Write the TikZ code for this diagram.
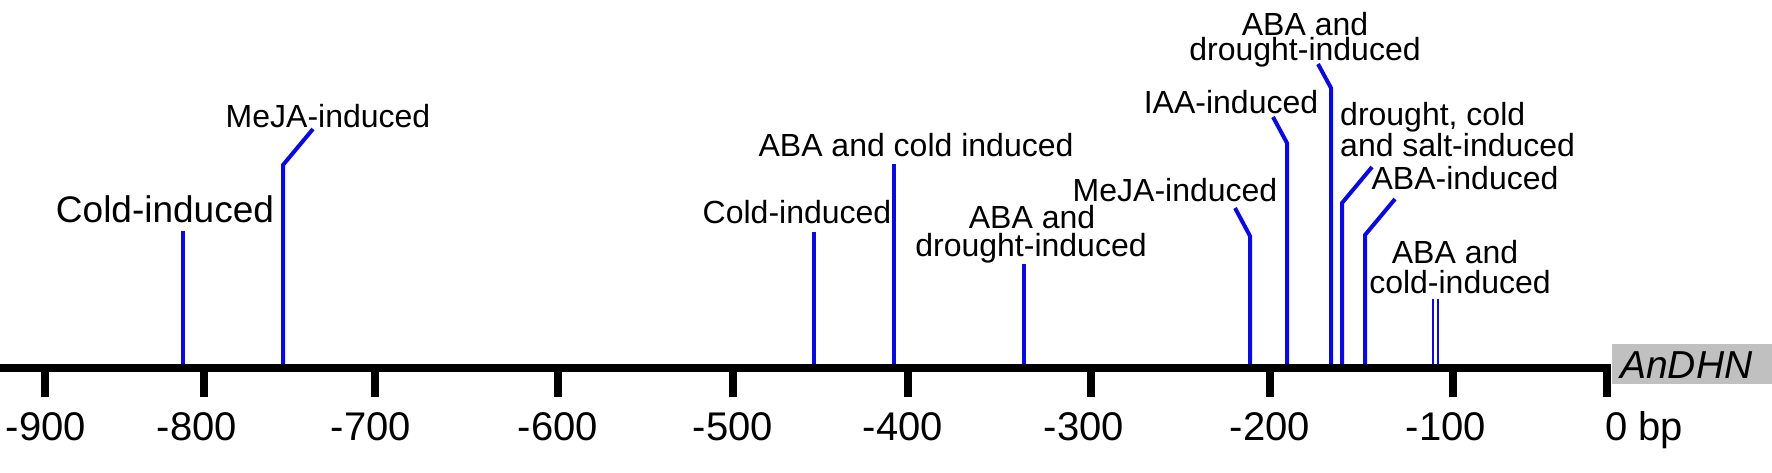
\documentclass[tikz,border=0pt]{standalone}
\usepackage{fontspec}
\setmainfont{Liberation Sans}
\definecolor{siteblue}{RGB}{10,10,220}
\definecolor{boxgray}{RGB}{192,192,192}
\begin{document}
\begin{tikzpicture}[x=1pt,y=-1pt,
  site/.style={draw=siteblue, line width=4pt},
  thinsite/.style={draw=siteblue, line width=2.6pt},
  axisline/.style={draw=black, line width=8pt},
  tickmark/.style={draw=black, line width=8pt},
  lbl/.style={inner sep=0pt, anchor=base, font=\fontsize{32}{32}\selectfont},
  lblw/.style={inner sep=0pt, anchor=base west, font=\fontsize{32}{32}\selectfont},
  biglbl/.style={inner sep=0pt, anchor=base, font=\fontsize{37}{37}\selectfont},
  ticklbl/.style={inner sep=0pt, anchor=base, font=\fontsize{40}{40}\selectfont}]
\useasboundingbox (0,0) rectangle (1772,472);

% gene label box
\node[fill=boxgray, minimum width=160pt, minimum height=40pt, inner sep=0pt, anchor=north west] (box) at (1612,344) {};
\node[inner sep=0pt, anchor=base west, font=\fontsize{39}{39}\selectfont\itshape] (gene) at (1620,378) {AnDHN};

% sites: bottoms on the axis
\coordinate (b1) at (183,368);  \coordinate (t1) at (183,231);
\coordinate (b2) at (283,368);  \coordinate (k2) at (283,165); \coordinate (t2) at (313,129);
\coordinate (b3) at (814,368);  \coordinate (t3) at (814,232);
\coordinate (b4) at (894,368);  \coordinate (t4) at (894,164);
\coordinate (b5) at (1024,368); \coordinate (t5) at (1024,264);
\coordinate (b6) at (1250,368); \coordinate (k6) at (1250,236); \coordinate (t6) at (1235,208);
\coordinate (b7) at (1287,368); \coordinate (k7) at (1287,143); \coordinate (t7) at (1273,117);
\coordinate (b8) at (1331,368); \coordinate (k8) at (1331,88);  \coordinate (t8) at (1318,64);
\coordinate (b9) at (1342,368); \coordinate (k9) at (1342,203); \coordinate (t9) at (1372,167);
\coordinate (b10) at (1365,368); \coordinate (k10) at (1365,235); \coordinate (t10) at (1395,199);
\coordinate (b11) at (1433,368); \coordinate (t11) at (1433,299);
\coordinate (b12) at (1438,368); \coordinate (t12) at (1438,299);

\draw[site] (b1) -- (t1);
\draw[site] (b2) -- (k2) -- (t2);
\draw[site] (b3) -- (t3);
\draw[site] (b4) -- (t4);
\draw[site] (b5) -- (t5);
\draw[site] (b6) -- (k6) -- (t6);
\draw[site] (b7) -- (k7) -- (t7);
\draw[site] (b8) -- (k8) -- (t8);
\draw[site] (b9) -- (k9) -- (t9);
\draw[site] (b10) -- (k10) -- (t10);
\draw[thinsite] (b11) -- (t11);
\draw[thinsite] (b12) -- (t12);

% axis
\coordinate (axL) at (0,368);
\coordinate (axR) at (1611,368);
\draw[axisline] (axL) -- (axR);

% ticks
\foreach \x [count=\i] in {45,204,375,558,733,908,1091,1270,1453,1607}{
  \coordinate (tk\i) at (\x,365);
  \coordinate (te\i) at (\x,397);
  \draw[tickmark] (tk\i) -- (te\i);
}

% tick labels
\node[ticklbl] (n900) at (46,440) {-900};
\node[ticklbl] (n800) at (197,440) {-800};
\node[ticklbl] (n700) at (371,440) {-700};
\node[ticklbl] (n600) at (558,440) {-600};
\node[ticklbl] (n500) at (733,440) {-500};
\node[ticklbl] (n400) at (903,440) {-400};
\node[ticklbl] (n300) at (1084,440) {-300};
\node[ticklbl] (n200) at (1270,440) {-200};
\node[ticklbl] (n100) at (1446,440) {-100};
\node[inner sep=0pt, anchor=base west, font=\fontsize{40}{40}\selectfont] (n0) at (1605,440) {0 bp};

% site labels
\node[biglbl] (l1) at (165,222) {Cold-induced};
\node[lbl] (l2) at (328,127) {MeJA-induced};
\node[lbl] (l3) at (797,223) {Cold-induced};
\node[lbl] (l4) at (916,156) {ABA and cold induced};
\node[lbl] (l5a) at (1032,228) {ABA and};
\node[lbl] (l5b) at (1031,256) {drought-induced};
\node[lbl] (l6) at (1175,201) {MeJA-induced};
\node[lbl] (l7) at (1231,113) {IAA-induced};
\node[lbl] (l8a) at (1305,35) {ABA and};
\node[lbl] (l8b) at (1305,60) {drought-induced};
\node[lblw] (l9a) at (1340,125) {drought, cold};
\node[lblw] (l9b) at (1340,156) {and salt-induced};
\node[lbl] (l10) at (1465,189) {ABA-induced};
\node[lbl] (l11a) at (1455,263) {ABA and};
\node[lbl] (l11b) at (1460,293) {cold-induced};
\end{tikzpicture}
\end{document}
